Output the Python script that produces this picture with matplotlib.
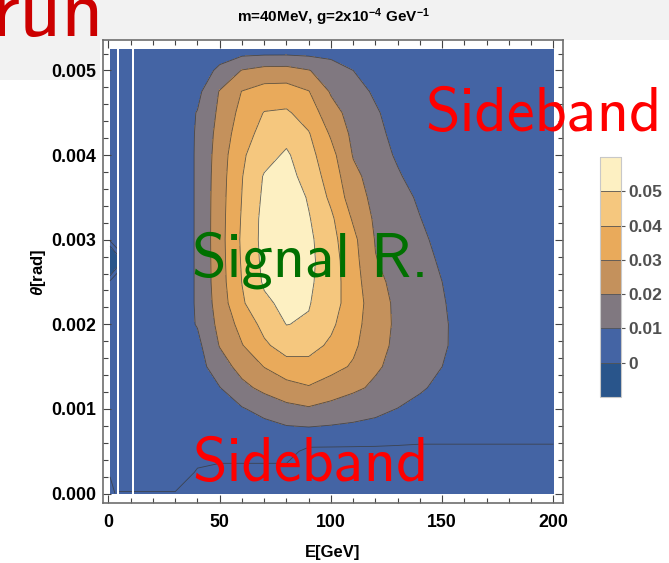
import numpy as np
import matplotlib
matplotlib.use('Agg')
import matplotlib.pyplot as plt
from matplotlib.patches import Rectangle

plt.rcParams['font.family'] = ['Liberation Sans', 'DejaVu Sans']
plt.rcParams['font.weight'] = 'bold'
plt.rcParams['mathtext.fontset'] = 'custom'
plt.rcParams['mathtext.rm'] = 'Liberation Sans:bold'
plt.rcParams['mathtext.bf'] = 'Liberation Sans:bold'
plt.rcParams['mathtext.it'] = 'Liberation Sans:italic:bold'
plt.rcParams['mathtext.default'] = 'bf'

nan = np.nan

# grid of the scan (E in GeV, theta in rad); NaN columns are missing data
E_nodes = [0.7, 4.0, 4.35, 4.7, 10.7, 11.0, 11.3, 20, 30, 40, 50, 60, 70, 80,
           90, 100, 110, 120, 130, 140, 150, 160, 170, 180, 190, 200]
theta_nodes = [0.0, 0.00025, 0.0005, 0.00075, 0.001, 0.00125, 0.0015, 0.00175,
               0.002, 0.00225, 0.0025, 0.00275, 0.003, 0.00325, 0.0035, 0.00375,
               0.004, 0.00425, 0.0045, 0.00475, 0.005, 0.00525]
missing_E = [4.35, 11.0]
background = 5.0  # x 1e-3

# lowest rows (x 1e-3), all E columns
row_0 = [0.5, 2.75, nan, 1.7, 1.7, nan, 1.7, 1.7, 1.7, 0.5] + [0.5] * 16
row_1 = [2.4, 5, nan, 5, 5, nan, 5, 5, 5, 1.5] + [0.5] * 16
row_2 = [5, 5, nan, 5, 5, nan, 5, 5, 5, 4, 4, 4, 4, 4] + [0.5] * 12

# small dip at the left edge, rows theta = 0.0025, 0.00275, 0.003
dip_E07 = [2.5, -6, 2.5]
dip_E40 = [5, -2, 5]

# signal density (x 1e-3): rows theta 0.00075 .. 0.00525, columns E 40 .. 160
signal_E = [40, 50, 60, 70, 80, 90, 100, 110, 120, 130, 140, 150, 160]
signal = [
    [5, 5, 5, 6, 8, 8.5, 8, 7.5, 7, 6, 5, 5, 5],
    [5, 5, 9.2, 13.3, 17.3, 18.9, 16.6, 14.3, 12.1, 9.8, 7.0, 5, 5],
    [5, 9.7, 17.4, 22.5, 26.2, 29.2, 25.5, 21.9, 18.3, 14.8, 11.2, 7.6, 5],
    [6.1, 15.5, 23.5, 30.3, 36.3, 37.0, 33.2, 28.9, 21.3, 17.1, 13.6, 10.0, 6.6],
    [7.5, 20.5, 29.5, 38.4, 44.1, 43.3, 38.4, 31.9, 23.5, 17.8, 14.4, 10.9, 7.5],
    [10.6, 22.7, 33.5, 42.9, 50.2, 49.0, 41.8, 33.5, 24.5, 18.2, 14.6, 11.0, 7.4],
    [10.9, 24.7, 38.7, 48.1, 52.5, 50.6, 44.1, 35.0, 24.5, 17.9, 14.3, 10.6, 7.0],
    [10.9, 25.8, 40.2, 51.3, 56.0, 51.7, 44.6, 34.4, 22.5, 17.2, 13.6, 10.0, 6.5],
    [10.9, 26.1, 41.0, 52.5, 58.0, 52.4, 44.5, 33.6, 20.4, 16.4, 12.7, 8.9, 5],
    [10.9, 26.3, 41.5, 53.1, 58.6, 52.1, 43.3, 32.5, 19.4, 15.5, 11.6, 7.7, 5],
    [10.9, 26.2, 40.9, 53.0, 58.0, 50.7, 41.8, 28.8, 18.3, 14.3, 10.2, 6.2, 5],
    [10.9, 26.0, 40.2, 51.9, 56.9, 49.0, 38.0, 25.0, 17.1, 13.0, 8.8, 5, 5],
    [10.9, 25.6, 39.6, 50.8, 54.0, 45.7, 35.7, 22.5, 15.9, 11.0, 6.1, 5, 5],
    [10.9, 24.9, 38.6, 46.1, 51.5, 43.3, 33.3, 19.4, 14.1, 8.8, 5, 5, 5],
    [10.8, 23.7, 35.7, 43.5, 46.7, 40.7, 28.8, 17.7, 12.5, 7.3, 5, 5, 5],
    [10.4, 22.0, 33.1, 40.4, 41.3, 35.6, 23.8, 16.2, 11.1, 5.9, 5, 5, 5],
    [7.5, 20.6, 30.3, 34.0, 34.3, 30.4, 19.0, 13.8, 8.6, 5, 5, 5, 5],
    [5, 11.9, 20.4, 23.3, 23.6, 20.4, 15.4, 10, 5, 5, 5, 5, 5],
    [5, 5, 5, 5, 5, 5, 5, 5, 5, 5, 5, 5, 5],
]

levels = [-0.01, 0, 0.01, 0.02, 0.03, 0.04, 0.05, 0.06]
band_colors = ['#29558b', '#4464a4', '#807880', '#c4915c', '#e9aa5b', '#f5c77e', '#fdf0c2']

# assemble the field
E = np.array(E_nodes)
th = np.array(theta_nodes)
Z = np.full((len(th), len(E)), background)
Z[0], Z[1], Z[2] = row_0, row_1, row_2
Z[10:13, 0] = dip_E07
Z[10:13, 1] = dip_E40
c0 = E_nodes.index(signal_E[0])
Z[3:, c0:c0 + len(signal_E)] = signal
for m in missing_E:
    Z[:, E_nodes.index(m)] = nan
Z = np.ma.masked_invalid(Z * 1e-3)

fig = plt.figure(figsize=(6.69, 5.63), dpi=100)
# slide header background
fig.patches.append(Rectangle((0, 1 - 40 / 563), 1, 40 / 563, transform=fig.transFigure,
                             facecolor='#f2f2f2', edgecolor='none', zorder=-10))
fig.patches.append(Rectangle((0, 1 - 80 / 563), 100 / 669, 40 / 563, transform=fig.transFigure,
                             facecolor='#f2f2f2', edgecolor='none', zorder=-10))

ax = fig.add_axes([103 / 669, 60 / 563, 460 / 669, 463 / 563])
cf = ax.contourf(E, th, Z, levels=levels, colors=band_colors)
ax.contour(E, th, Z, levels=[0, 0.002, 0.01, 0.02, 0.03, 0.04, 0.05],
           colors='#3a3a3a', linewidths=0.6, alpha=0.8)

# missing columns show as white strips
for m in missing_E:
    i = E_nodes.index(m)
    ax.fill_between([E_nodes[i - 1], E_nodes[i + 1]], th[0], th[-1],
                    color='white', lw=0, zorder=3)

ax.set_xlim(-2.47, 204.3)
ax.set_ylim(-0.000112, 0.00536)
ax.set_xticks([0, 50, 100, 150, 200])
ax.set_xticks(np.arange(0, 201, 10), minor=True)
ax.set_yticks([0, 0.001, 0.002, 0.003, 0.004, 0.005])
ax.set_yticklabels(['0.000', '0.001', '0.002', '0.003', '0.004', '0.005'])
ax.set_yticks(np.arange(0, 0.00521, 0.0002), minor=True)
ax.tick_params(which='both', direction='in', top=True, right=True, color='#444444',
               labelsize=12.8, width=0.8)
ax.tick_params(which='major', length=6)
ax.tick_params(which='minor', length=3.5)
ax.tick_params(axis='x', pad=8)
ax.tick_params(axis='y', pad=5)
for s in ax.spines.values():
    s.set_color('#6e6e6e')
    s.set_linewidth(1.2)

fig.text(333 / 669, 1 - 17 / 563, r'm=40MeV, g=2x10$^{-4}$ GeV$^{-1}$',
         ha='center', va='center', fontsize=11, fontweight='bold')
fig.text(333 / 669, 1 - 552 / 563, 'E[GeV]', ha='center', va='center',
         fontsize=12, fontweight='bold')
fig.text(38 / 669, 1 - 272 / 563, r'$\mathit{\theta}$[rad]', ha='center', va='center',
         rotation=90, fontsize=12, fontweight='bold')

# legend bar
cax = fig.add_axes([600 / 669, 1 - 397 / 563, 21 / 669, 240 / 563])
cb = fig.colorbar(cf, cax=cax, ticks=[0, 0.01, 0.02, 0.03, 0.04, 0.05], drawedges=True)
cb.ax.set_yticklabels(['0', '0.01', '0.02', '0.03', '0.04', '0.05'])
cb.ax.tick_params(length=3, width=0.8, color='#555555', labelcolor='#505050',
                  labelsize=12.5, pad=2)
cb.outline.set_edgecolor('#c8c8c8')
cb.outline.set_linewidth(0.8)
cb.dividers.set_color('#555555')
cb.dividers.set_linewidth(0.6)

# slide annotations
fig.text(-8 / 669, 1 - 36 / 563, 'run', fontsize=59, color='#cc0000',
         family='cmss10', fontweight='normal', va='baseline')
fig.text(425 / 669, 1 - 131 / 563, 'Sideband', fontsize=45, color='#ff0000',
         family='cmss10', fontweight='normal', va='baseline')
fig.text(192 / 669, 1 - 481 / 563, 'Sideband', fontsize=45, color='#ff0000',
         family='cmss10', fontweight='normal', va='baseline')
fig.text(192 / 669, 1 - 277 / 563, 'Signal R.', fontsize=45, color='#007000',
         family='cmss10', fontweight='normal', va='baseline')

fig.savefig('out.png', dpi=100)
